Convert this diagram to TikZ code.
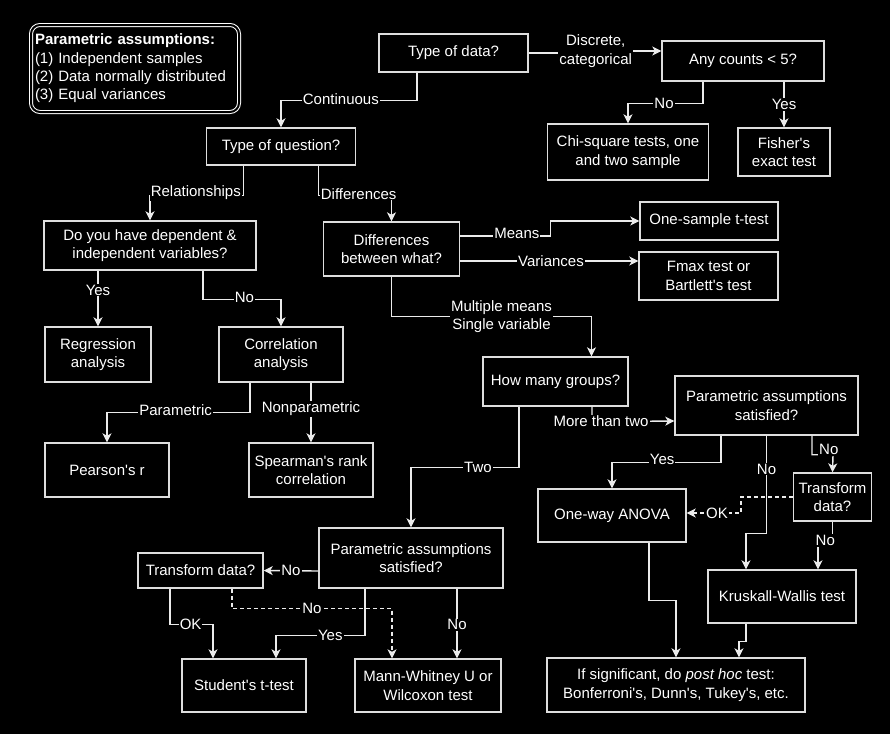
\documentclass[tikz,border=0pt]{standalone}
\usepackage{fontspec}
\setmainfont{Liberation Sans}[Ligatures=TeXOff]
\usetikzlibrary{arrows.meta}
\newcommand{\myfs}{\fontsize{15}{18.3}\selectfont}
\definecolor{boxc}{RGB}{222,222,222}
\definecolor{linec}{RGB}{235,235,235}
\begin{document}
\begin{tikzpicture}[x=1pt,y=-1pt,
  box/.style={draw=boxc, line width=1.4pt, fill=black, text=white, align=center, inner sep=0pt, font=\myfs},
  lbl/.style={fill=black, text=white, inner sep=1pt, font=\myfs, align=center},
  conn/.style={draw=linec, line width=1.4pt, -{Stealth[length=9pt,width=9pt,inset=2.5pt]}},
  plain/.style={draw=linec, line width=1.4pt},
  dsh/.style={conn, dash pattern=on 4pt off 3pt}]
\fill[black] (0,0) rectangle (890,734);
\useasboundingbox (0,0) rectangle (890,734);

% assumptions box
\node[draw=white, double=black, double distance=2pt, line width=1pt, rounded corners=9pt,
  minimum width=208pt, minimum height=87pt, text width=200pt, inner sep=4pt, align=left,
  text=white, font=\myfs] (asm) at (135,68.5)
  {\textbf{Parametric assumptions:}\\(1) Independent samples\\(2) Data normally distributed\\(3) Equal variances};

% nodes
\node[box, minimum width=149pt, minimum height=38pt] (tod) at (453.5,53) {Type of data?};
\node[box, minimum width=162pt, minimum height=40pt] (acl) at (743,61) {Any counts < 5?};
\node[box, minimum width=161pt, minimum height=56pt] (chi) at (628,152) {Chi-square tests, one\\and two sample};
\node[box, minimum width=92pt, minimum height=48pt] (fis) at (784,152) {Fisher's\\exact test};
\node[box, minimum width=149pt, minimum height=37pt] (toq) at (281,146.5) {Type of question?};
\node[box, minimum width=212pt, minimum height=49pt] (dep) at (150,245.5) {Do you have dependent \&\\independent variables?};
\node[box, minimum width=136pt, minimum height=54pt] (dbw) at (391.5,249) {Differences\\between what?};
\node[box, minimum width=138pt, minimum height=38pt] (ost) at (709,221) {One-sample t-test};
\node[box, minimum width=139pt, minimum height=48pt] (fmx) at (708.5,276) {Fmax test or\\Bartlett's test};
\node[box, minimum width=106pt, minimum height=55pt] (reg) at (98,354.5) {Regression\\analysis};
\node[box, minimum width=124pt, minimum height=55pt] (cor) at (281,354.5) {Correlation\\analysis};
\node[box, minimum width=124pt, minimum height=54pt] (pea) at (107,470) {Pearson's r};
\node[box, minimum width=124pt, minimum height=54pt] (spe) at (311,470) {Spearman's rank\\correlation};
\node[box, minimum width=145pt, minimum height=49pt] (hmg) at (555.5,381.5) {How many groups?};
\node[box, minimum width=183pt, minimum height=59pt] (par2) at (766.5,405.5) {Parametric assumptions\\satisfied?};
\node[box, minimum width=148pt, minimum height=53pt] (owa) at (612,515.5) {One-way ANOVA};
\node[box, minimum width=78pt, minimum height=48pt] (trd) at (832.5,497) {Transform\\data?};
\node[box, minimum width=148pt, minimum height=53pt] (kw) at (782,596.5) {Kruskall-Wallis test};
\node[box, minimum width=258pt, minimum height=54pt] (post) at (676,685) {If significant, do \textit{post hoc} test:\\Bonferroni's, Dunn's, Tukey's, etc.};
\node[box, minimum width=184pt, minimum height=60pt] (par1) at (411,558) {Parametric assumptions\\satisfied?};
\node[box, minimum width=125pt, minimum height=35pt] (trl) at (200.5,570.5) {Transform data?};
\node[box, minimum width=124pt, minimum height=53pt] (stu) at (244,685.5) {Student's t-test};
\node[box, minimum width=146pt, minimum height=53pt] (mwu) at (428,685.5) {Mann-Whitney U or\\Wilcoxon test};

% connectors
\draw[conn] ([xshift=-36.5pt]tod.south) -- ++(0,28) -- node[lbl,pos=0.56,yshift=2pt]{Continuous} ++(-136,0) -- (toq.north);
\draw[conn] (tod.east) -- node[lbl,pos=1,yshift=2pt]{Discrete,\\categorical} ++(67,0) |- ([yshift=10pt]acl.west);
\draw[conn] ([xshift=-40pt]acl.south) -- ++(0,22) -- node[lbl,pos=0.52]{No} ++(-75,0) -- (chi.north);
\draw[conn] ([xshift=41pt]acl.south) -- node[lbl,pos=0.5]{Yes} (fis.north);
\draw[conn] ([xshift=-37.5pt]toq.south) -- ++(0,30) -- node[lbl,pos=0.51,yshift=3pt]{Relationships} ++(-93.5,0) -- (dep.north);
\draw[conn] ([xshift=37.5pt]toq.south) -- ++(0,30) -- node[lbl,pos=0.55,yshift=2pt]{Differences} ++(73,0) -- (dbw.north);
\draw[conn] ([xshift=-52pt]dep.south) -- node[lbl,pos=0.35]{Yes} (reg.north);
\draw[conn] ([xshift=53pt]dep.south) -- ++(0,29) -- node[lbl,pos=0.53,yshift=2pt]{No} ++(78,0) -- (cor.north);
\draw[conn] ([yshift=13pt]dbw.east) -- node[lbl,pos=0.63,yshift=3pt]{Means} ++(90,0) -- ++(0,-15) -- (ost.west);
\draw[conn] ([yshift=-12pt]dbw.east) -- node[lbl,pos=0.51]{Variances} ([yshift=15pt]fmx.west);
\draw[conn] (dbw.south) -- ++(0,40) -- node[lbl,pos=0.55]{Multiple means\\Single variable} ++(200,0) -- ([xshift=36pt]hmg.north);
\draw[conn] ([xshift=-31pt]cor.south) -- ++(0,30) -- node[lbl,pos=0.52,yshift=3pt]{Parametric} ++(-143,0) -- (pea.north);
\draw[conn] ([xshift=30pt]cor.south) -- node[lbl,pos=0.44]{Nonparametric} (spe.north);
\draw[conn] ([xshift=36.5pt]hmg.south) -- ++(0,15) -- node[lbl,pos=0.11]{More than two} ([yshift=-15.5pt]par2.west);
\draw[conn] ([xshift=-36.5pt]hmg.south) -- ++(0,61) -- node[lbl,pos=0.38]{Two} ++(-108,0) -- (par1.north);
\draw[conn] ([xshift=-45.5pt]par2.south) -- ++(0,27) -- node[lbl,pos=0.54,yshift=3pt]{Yes} ++(-109,0) -- (owa.north);
\draw[dsh] (trd.west) -- ++(-52,0) -- ++(0,16) -- node[lbl,pos=0.44]{OK} ([yshift=2.5pt]owa.east);
\draw[conn] (par2.south) -- node[lbl,pos=0.34]{No} ++(0,98) -- ++(-20.5,0) -- ([xshift=-36pt]kw.north);
\draw[conn] ([xshift=45.5pt]par2.south) -- ++(0,19) -- node[lbl,pos=0.8,yshift=5pt]{No} ++(21,0) -- (trd.north);
\draw[conn] (trd.south) -- ++(0,19) -- node[lbl,pos=0.5]{No} ++(-14.5,0) -- ([xshift=36pt]kw.north);
\draw[conn] ([xshift=37pt]owa.south) -- ++(0,58) -- ++(27,0) -- (post.north);
\draw[conn] ([xshift=-36pt]kw.south) -- ++(0,18) -- ++(-7,0) -- ([xshift=63pt]post.north);
\draw[conn] ([yshift=-13pt]par1.west) -- node[lbl,pos=0.5]{No} (trl.east);
\draw[conn] ([xshift=-30.5pt]trl.south) -- ++(0,36) -- node[lbl,pos=0.48]{OK} ++(43,0) -- ([xshift=-31pt]stu.north);
\draw[dsh] ([xshift=31.5pt]trl.south) -- ++(0,20) -- node[lbl,pos=0.5]{No} ++(160,0) -- ([xshift=-36pt]mwu.north);
\draw[conn] ([xshift=-46pt]par1.south) -- ++(0,47) -- node[lbl,pos=0.39]{Yes} ++(-89,0) -- ([xshift=32pt]stu.north);
\draw[conn] ([xshift=46pt]par1.south) -- node[lbl,pos=0.52]{No} ([xshift=29pt]mwu.north);
\end{tikzpicture}
\end{document}
